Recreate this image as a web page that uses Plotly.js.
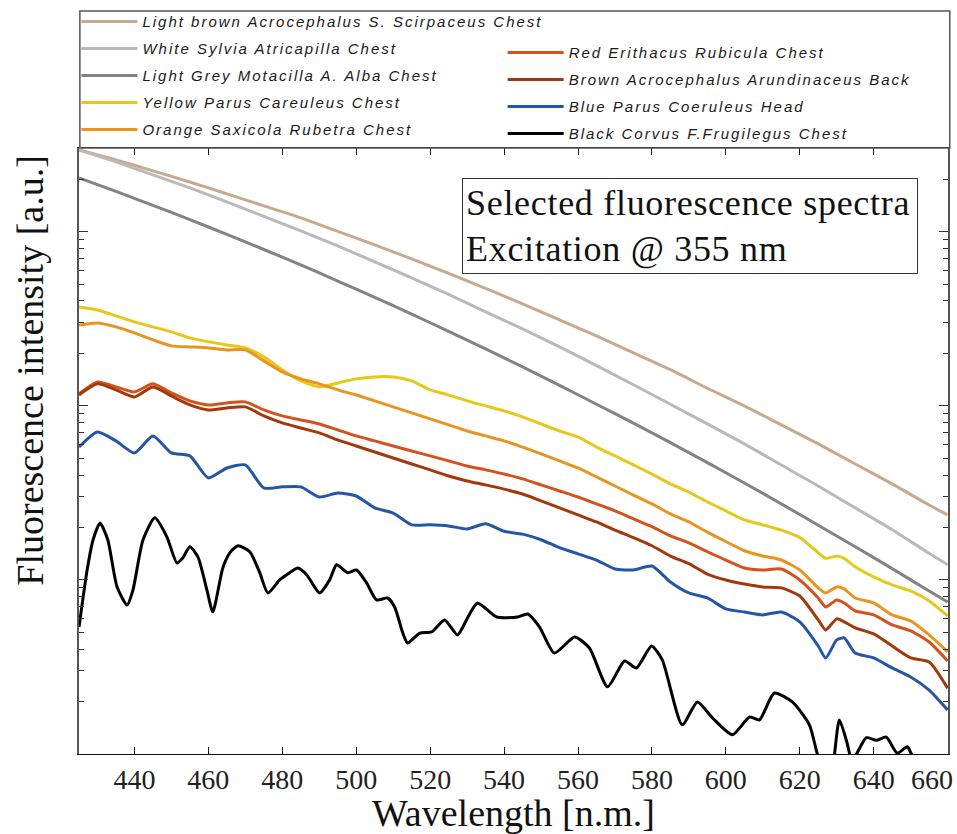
<!DOCTYPE html>
<html>
<head>
<meta charset="utf-8">
<script src="https://cdn.plot.ly/plotly-3.0.1.min.js"></script>
<style>
  html, body { margin: 0; padding: 0; background: #fff; }
  #chart { width: 957px; height: 834px; }
  .legendtext, g.legend text, g.legend2 text { letter-spacing: 2px; }
  g.legend .scrollbox, g.legend2 .scrollbox { clip-path: none !important; }
  .annotation[data-index="0"] .annotation-text { letter-spacing: 0.7px; }
</style>
</head>
<body>
<div id="chart"></div>
<script>
// Wavelength grids (nm)
const wl10 = [425,435,445,455,465,475,485,495,505,515,525,535,545,555,565,575,585,595,605,615,625,635,645,655,660];
const wl5 = [425,430,435,440,445,450,455,460,465,470,475,480,485,490,495,500,505,510,515,520,525,530,535,540,545,550,555,560,565,570,575,580,585,590,595,600,605,610,615,620,625,627,630,632,635,640,645,650,655,660];

// Series names and colours
const names = [
  "Light brown Acrocephalus S. Scirpaceus Chest",
  "White Sylvia Atricapilla Chest",
  "Light Grey Motacilla A. Alba Chest",
  "Yellow Parus Careuleus Chest",
  "Orange Saxicola Rubetra Chest",
  "Red Erithacus Rubicula Chest",
  "Brown Acrocephalus Arundinaceus Back",
  "Blue Parus Coeruleus Head",
  "Black Corvus F.Frugilegus Chest"
];
const colors = ["#c9a98e","#b9b9b9","#838383","#e6c81a","#e8951f","#d4521e","#a3390b","#2455a6","#000000"];

// Fluorescence intensity (a.u.)
const lightBrown = [2944,2582,2233,1928,1648,1406,1199,1003,839,697,575,472,385,311,252,201,161,126,99.8,77.6,60.4,46.3,35.6,26.9,23.6];
const white = [2944,2512,2118,1783,1482,1223,1009,828,670,542,436,346,276,218,170,132,102,78.6,60.4,45.7,34.6,25.9,19.4,14.2,12.2];
const lightGrey = [2033,1702,1416,1170,964,789,643,520,419,336,267,212,167,131,102,79.4,61.4,47.1,36.0,27.3,20.6,15.5,11.6,8.62,7.46];

const yellow = [369.4,354.9,327.9,302.9,283.5,265.4,245.1,232.6,223.5,214.8,190.7,160.6,138.9,128.3,135.2,142.6,146.4,146.4,138.9,123.3,115.3,106.6,99.8,93.4,86.3,78.6,71.6,66.2,57.9,51.5,45.7,40.5,35.6,31.9,28.0,24.9,22.1,20.7,19.3,17.5,14.3,13.3,13.7,13.3,11.9,10.4,9.35,8.64,7.57,6.21];
const orange = [291.1,298.9,283.5,261.9,238.8,220.6,217.7,214.8,209.2,209.2,180.9,156.4,142.6,133.5,123.3,115.3,106.6,98.5,90.9,84.0,77.6,71.6,67.1,62.8,57.9,52.9,48.2,43.9,39.0,34.6,30.7,27.3,23.9,21.5,18.8,16.6,14.7,13.7,13.0,11.4,8.99,8.41,9.11,8.87,7.87,7.37,6.29,5.81,4.83,3.86];
const red = [116.8,137.0,128.3,120.1,133.5,118.4,106.6,101.1,103.8,105.2,94.6,87.4,82.9,78.6,72.6,67.1,62.8,58.7,55.0,51.5,48.2,45.1,42.8,40.5,38.0,35.1,32.4,29.9,27.3,24.9,22.4,20.2,17.9,16.3,14.5,13.0,11.7,11.4,11.55,9.99,7.87,6.99,7.67,7.37,6.63,6.29,5.51,5.09,4.40,3.42];
const brown = [115.3,133.5,123.3,112.3,128.3,113.8,101.1,94.6,97.1,98.5,87.4,79.7,74.5,69.8,63.6,58.7,54.2,50.1,46.3,42.8,39.5,37.0,35.1,33.2,31.1,28.4,25.9,23.6,21.5,19.3,17.5,15.7,13.7,12.4,10.8,9.99,9.47,9.11,8.99,8.08,5.89,5.16,5.97,5.74,5.30,4.89,4.17,3.56,3.38,2.39];
const blue = [57.9,70.7,62.8,53.6,67.1,53.6,51.5,38.5,43.9,45.7,33.7,34.2,34.2,29.9,31.5,30.3,25.9,24.2,20.7,20.7,20.4,19.6,21.0,19.0,18.3,17.0,15.3,14.1,13.0,11.55,11.4,12.0,9.73,8.41,7.87,6.81,6.54,6.29,6.54,5.74,4.17,3.56,4.52,4.64,3.80,3.56,3.12,2.77,2.33,1.79];

const blackWl = [425,427.2,428.8,430.7,432.8,435.3,438,439.6,442.3,445.5,448.8,451.5,453.1,455,457.2,459.6,461.2,463.9,465.8,468,471.2,473.9,476.1,479.3,482,484.2,486.6,490.1,492.8,494.7,497.7,500.1,502.8,505.5,508.5,510.4,512.6,513.9,517.2,520.4,523.9,527.4,530.1,532.8,538,543.6,546.4,549.6,553.6,559.1,563.1,568,572.6,575.8,579.9,582.8,588.2,592.3,596.4,601.8,606.4,609.1,613.1,618,622.6,624.7,628,630.7,632.6,634.2,638,640.7,643.4,646.4,649.1,650.1,652.3,656,660];
const black = [5.36,11.4,16.95,21.2,16.95,9.10,7.17,8.75,16.95,22.7,17.6,12.5,13.4,15.5,13.5,8.75,6.54,11.7,14.3,15.7,14.5,11.0,8.41,9.99,11.0,11.7,10.7,8.41,9.99,12.2,11.0,11.4,9.60,7.67,7.87,6.99,4.95,4.34,4.95,5.02,5.89,4.83,6.04,7.37,6.12,6.12,6.37,5.36,3.80,4.70,4.06,2.43,3.42,3.12,4.17,3.47,1.47,1.99,1.61,1.29,1.63,1.57,2.24,1.99,1.47,1.01,0.62,1.57,1.20,0.92,1.24,1.20,1.25,1.01,1.10,1.01,0.81,0.6,0.5];

// Axis ticks
const xTickVals = [440,460,480,500,520,540,560,580,600,620,640,660];
const xTickText = ["440","460","480","500","520","540","560","580","600","620","640",""];
const yMajor = [1,10,100,1000];
const yMinor = [];
[1,10,100,1000].forEach(d => { for (let k = 2; k <= 9; k++) yMinor.push(d * k); });

const seriesX = [wl10, wl10, wl10, wl5, wl5, wl5, wl5, wl5, blackWl];
const seriesY = [lightBrown, white, lightGrey, yellow, orange, red, brown, blue, black];
const legendOf = ["legend","legend","legend","legend","legend","legend2","legend2","legend2","legend2"];

const traces = seriesY.map((y, i) => ({
  type: "scatter", mode: "lines",
  x: seriesX[i], y: y, name: names[i],
  line: { color: colors[i], width: 3, shape: "spline", smoothing: 0.6 },
  legend: legendOf[i], legendgroup: "g" + i,
  hoverinfo: "skip"
}));

const serif = "Liberation Serif, Times New Roman, serif";
const sans = "Liberation Sans, Arial, sans-serif";

function legendSpec(x, y) {
  return {
    x: x, y: y, xanchor: "left", yanchor: "top", orientation: "v",
    bgcolor: "rgba(0,0,0,0)", borderwidth: 0,
    font: { family: sans, size: 15, color: "#1a1a1a", style: "italic" },
    tracegroupgap: 4.5, itemwidth: 56
  };
}

const layout = {
  width: 957, height: 834,
  margin: { l: 79, r: 9, t: 148, b: 80, autoexpand: false },
  paper_bgcolor: "#ffffff", plot_bgcolor: "#ffffff",
  font: { family: sans, size: 15, color: "#1a1a1a" },
  showlegend: true,
  legend: legendSpec(-0.003, 1.2356),
  legend2: legendSpec(0.4875, 1.1846),
  xaxis: {
    range: [425, 660.1], showgrid: false, zeroline: false,
    showline: true, linecolor: "#111", linewidth: 1.2, mirror: "ticks",
    ticks: "inside", ticklen: 7, tickcolor: "#111", tickwidth: 1,
    tickmode: "array", tickvals: xTickVals, ticktext: xTickText,
    tickfont: { family: serif, size: 28, color: "#222" },
    title: { text: "Wavelength [n.m.]", font: { family: serif, size: 38, color: "#111" }, standoff: 4 }
  },
  yaxis: {
    type: "log", range: [0, 3.48], showgrid: false, zeroline: false,
    showline: true, linecolor: "#555", linewidth: 1.6, mirror: "ticks",
    ticks: "inside", ticklen: 9, tickcolor: "#333", tickwidth: 1,
    tickmode: "array", tickvals: yMajor, showticklabels: false,
    minor: { tickmode: "array", tickvals: yMinor, ticks: "inside", ticklen: 5, tickcolor: "#333", tickwidth: 1, showgrid: false }
  },
  shapes: [
    { type: "rect", xref: "paper", yref: "paper", x0: 0.001, x1: 1.002, y0: 1, y1: 1.226,
      line: { color: "#555", width: 1.5 }, fillcolor: "rgba(0,0,0,0)", layer: "above" }
  ],
  annotations: [
    { text: "Selected fluorescence spectra<br>Excitation @ 355 nm", xref: "paper", yref: "paper",
      x: 0.4407, y: 0.9505, xanchor: "left", yanchor: "top", align: "left", valign: "middle",
      showarrow: false, width: 448, height: 88, borderpad: 3,
      bordercolor: "#333", borderwidth: 1, bgcolor: "rgba(255,255,255,0)",
      font: { family: serif, size: 36, color: "#111" } },
    { text: "Fluorescence intensity [a.u.]", xref: "paper", yref: "paper",
      x: -0.0565, y: 0.634, xanchor: "center", yanchor: "middle", textangle: -90,
      showarrow: false, font: { family: serif, size: 38, color: "#111" } },
    { text: "660", xref: "x", yref: "paper", x: 660.1, y: 0, xanchor: "right", yanchor: "top",
      xshift: 7, yshift: -8, showarrow: false, font: { family: serif, size: 28, color: "#222" } }
  ]
};

Plotly.newPlot("chart", traces, layout, { displayModeBar: false, staticPlot: true }).then(gd => {
  gd.querySelectorAll(".legendtext").forEach(t => { t.style.letterSpacing = "2px"; });
  gd.querySelectorAll(".scrollbox").forEach(s => { s.removeAttribute("clip-path"); s.style.clipPath = "none"; });
});
</script>
</body>
</html>
